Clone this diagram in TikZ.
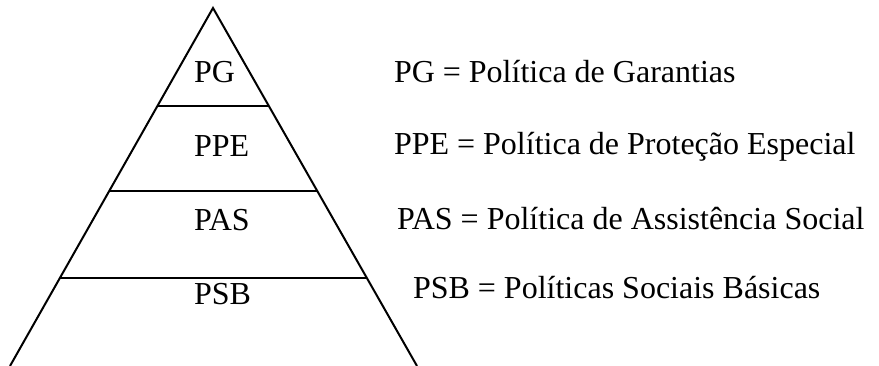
\documentclass[tikz,border=0pt]{standalone}
\usepackage{fontspec}
\setmainfont{Liberation Serif}
\usetikzlibrary{calc}
\begin{document}
\begin{tikzpicture}[x=0.75pt, y=-0.75pt, line width=1.5pt,
    font=\fontsize{24}{29}\selectfont,
    lbl/.style={anchor=base west, inner sep=0pt}]
      \useasboundingbox (0,0) rectangle (879,366);
      \clip (0,0) rectangle (879,366);
      % pyramid sides
      \coordinate (top) at (213,8);
      \coordinate (bl) at (10,366);
      \coordinate (br) at (417,366);
      \draw[] (bl) -- (top) -- (br);
      % layer borders
      \coordinate (l1) at ($(top)!0.2737!(bl)$);
      \coordinate (r1) at ($(top)!0.2737!(br)$);
      \coordinate (l2) at ($(top)!0.5112!(bl)$);
      \coordinate (r2) at ($(top)!0.5112!(br)$);
      \coordinate (l3) at ($(top)!0.7542!(bl)$);
      \coordinate (r3) at ($(top)!0.7542!(br)$);
      \draw[](l1) -- (r1);
      \draw[](l2) -- (r2);
      \draw[](l3) -- (r3);
      % layer names
      \node[lbl] (pg) at (193,83){PG};
      \node[lbl] (ppe) at (193,157){PPE};
      \node[lbl] (pas) at (193,231){PAS};
      \node[lbl] (psb) at (193,305){PSB};
      % legend
      \node[lbl] (pgtxt) at (393,83){PG = Política de Garantias};
      \node[lbl] (ppetxt) at (393,155){PPE = Política de Proteção Especial};
      \node[lbl] (pastxt) at (396,230){PAS = Política de Assistência Social};
      \node[lbl] (psbtxt) at (412,299){PSB = Políticas Sociais Básicas};
    \end{tikzpicture}
\end{document}
